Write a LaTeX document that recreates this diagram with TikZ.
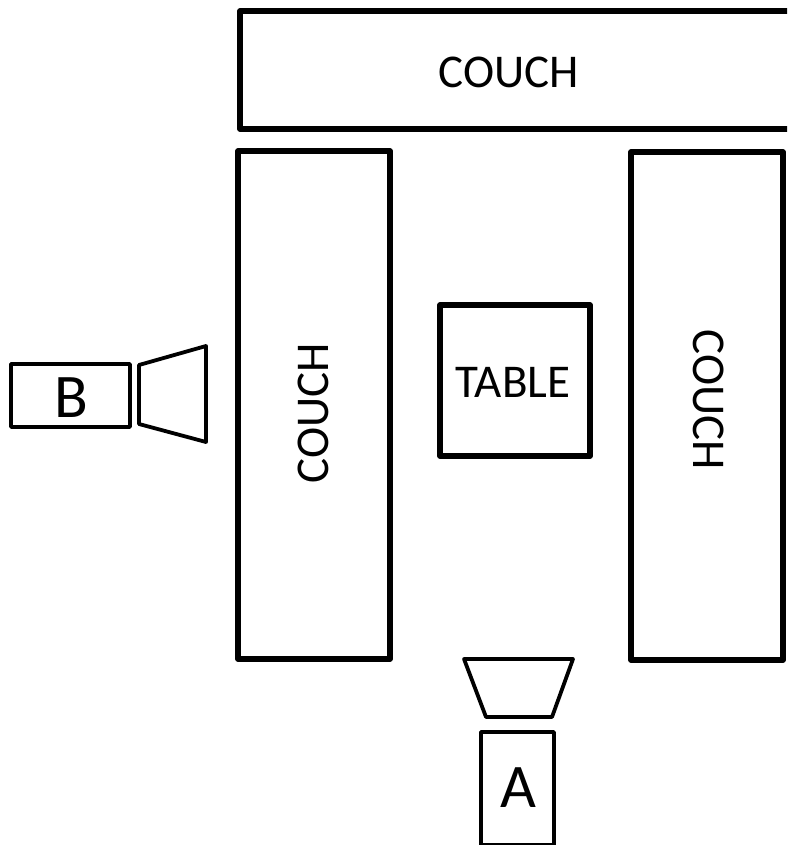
\documentclass[tikz,border=0pt]{standalone}
\usepackage{fontspec}
\setmainfont{Carlito}
\begin{document}
\begin{tikzpicture}[x=1pt,y=-1pt,
  thick line/.style={draw=black,line width=5.6pt,line join=round},
  thin line/.style={draw=black,line width=3.8pt,line join=round},
  lab/.style={inner sep=0pt,text=black,font=\fontsize{47}{47}\selectfont},
  bigl/.style={inner sep=0pt,text=black,font=\fontsize{62}{62}\selectfont}]
\useasboundingbox (0,0) rectangle (787,845);
\begin{scope}
\clip (0,0) rectangle (787,845);
\path[thick line] (800,11) -- (240,11) -- (240,129) -- (800,129);
\end{scope}
\node[lab] (c1) at (509,72) {COUCH};
\path[thick line] (238,151) rectangle (390,659);
\node[lab,rotate=90] (c2) at (313,413) {COUCH};
\path[thick line] (631,152) rectangle (783,660);
\node[lab,rotate=-90] (c3) at (709,400) {COUCH};
\path[thick line] (440,305) rectangle (590,456);
\node[lab] (t) at (513,382) {TABLE};
\path[thin line] (11,364) rectangle (130,427);
\node[bigl] (b) at (71,398) {B};
\path[thin line] (139,365) -- (206,346) -- (206,442) -- (139,424) -- cycle;
\path[thin line] (464,659) -- (573,659) -- (552,717) -- (486,717) -- cycle;
\path[thin line] (481,732) rectangle (554,845);
\node[bigl] (a) at (518,788) {A};
\end{tikzpicture}
\end{document}
